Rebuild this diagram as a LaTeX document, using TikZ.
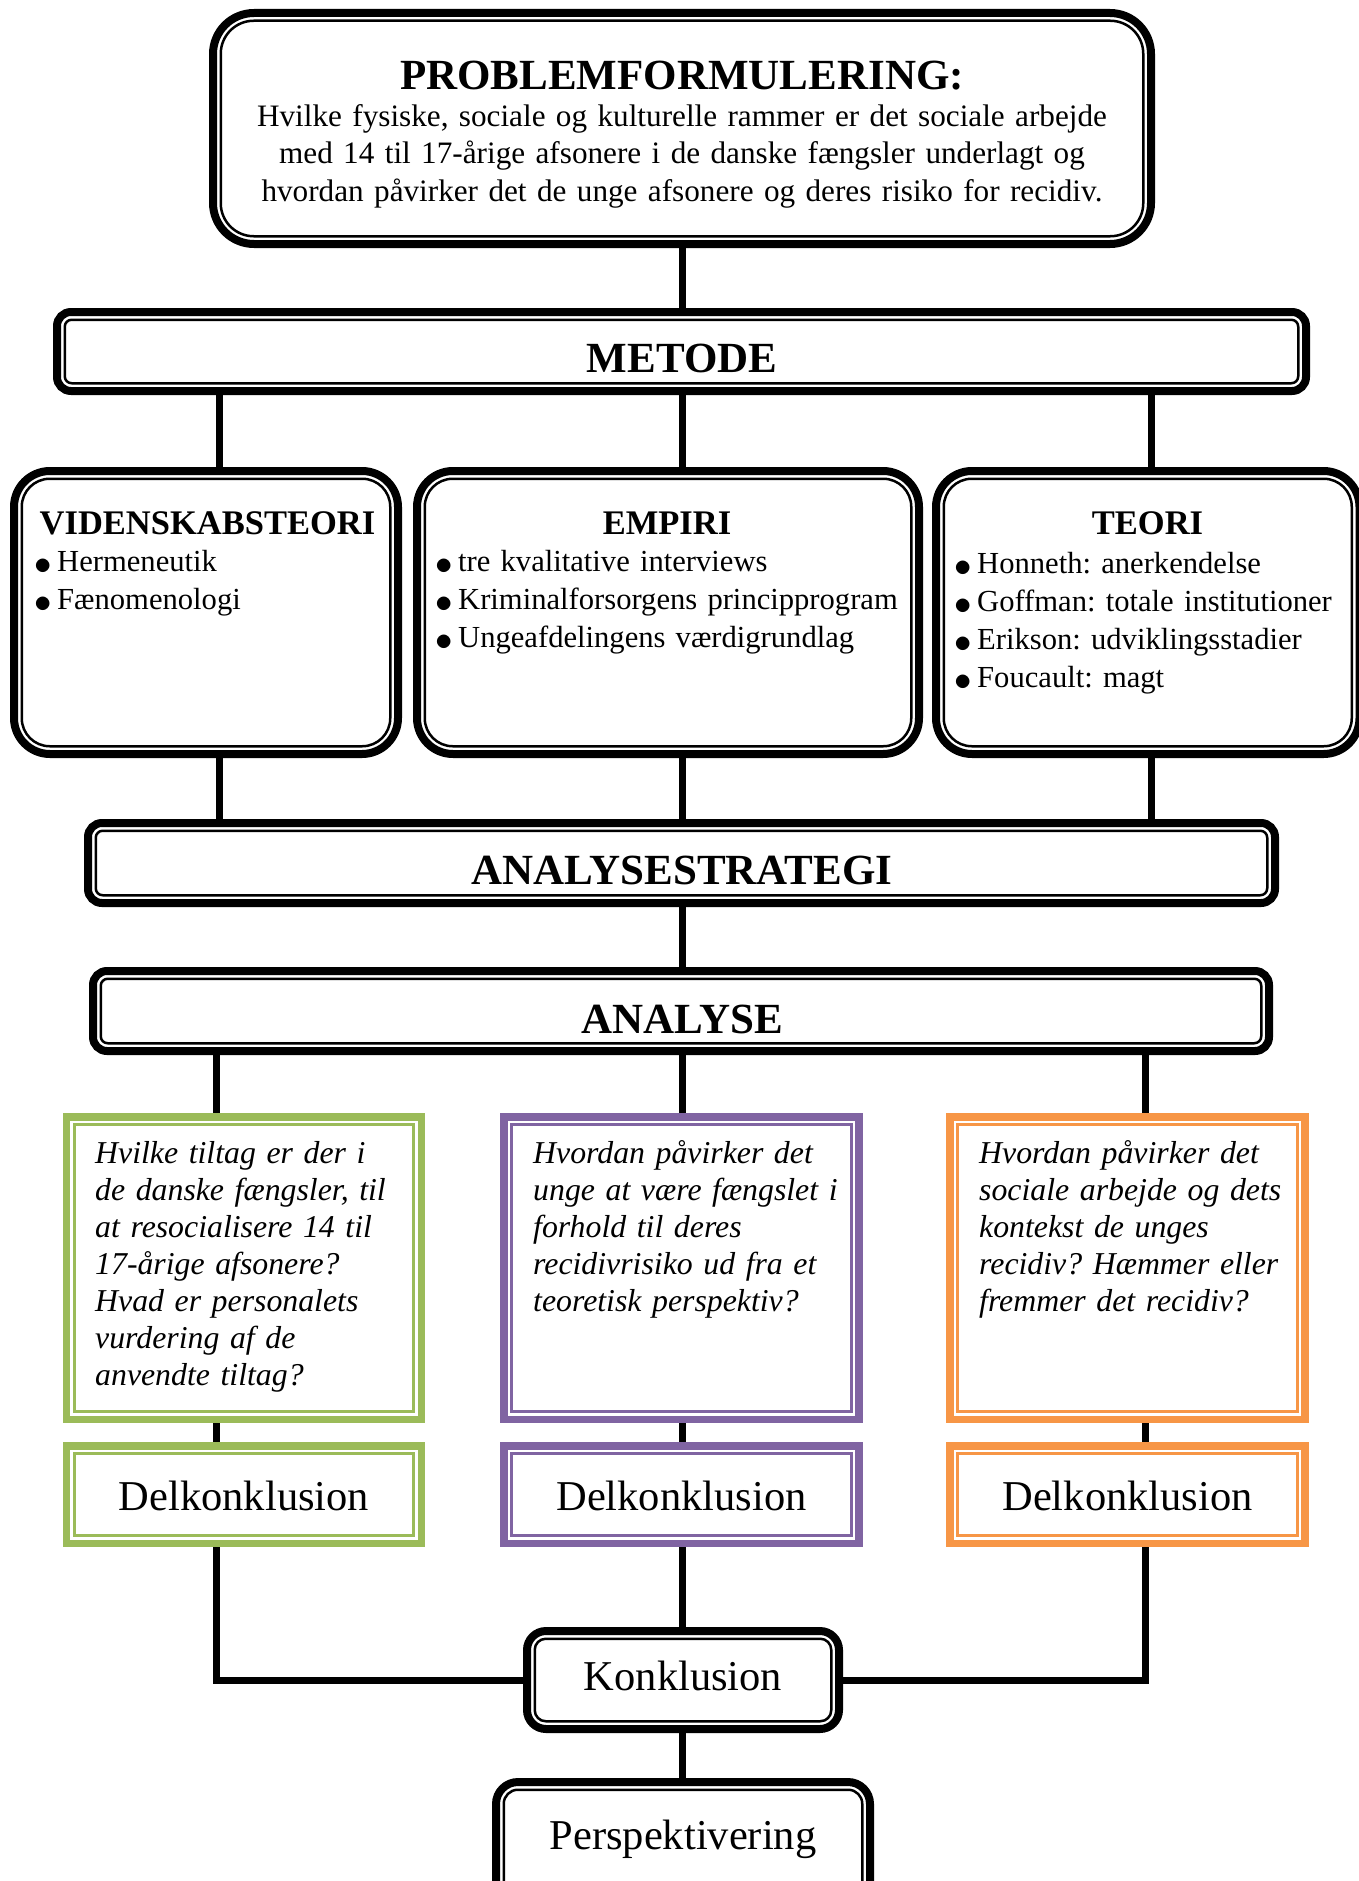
\documentclass[tikz,border=0pt]{standalone}
\usepackage{fontspec}
\usepackage{graphicx}
\setmainfont{Liberation Serif}
\usetikzlibrary{positioning,backgrounds}
\frenchspacing

\definecolor{delgreen}{HTML}{9BBB59}
\definecolor{delpurple}{HTML}{8064A2}
\definecolor{delorange}{HTML}{F79646}

\newcommand{\hdfont}{\fontsize{43}{48}\selectfont\bfseries}
\newcommand{\subhdfont}{\fontsize{34.5}{38}\selectfont\bfseries}
\newcommand{\txtfont}{\fontsize{31.2}{37.5}\selectfont}
\newcommand{\listfont}{\fontsize{30.6}{38}\selectfont}
\newcommand{\qfont}{\fontsize{31.8}{37}\selectfont\itshape}
\newcommand{\lgfont}{\fontsize{42.5}{48}\selectfont}
\newcommand{\bul}{\makebox[21pt][l]{\makebox[14pt][c]{\raisebox{-3pt}{\scalebox{1.4}{$\bullet$}}}}}

\begin{document}
\begin{tikzpicture}[x=1pt, y=-1pt,
    blackbox/.style={draw=black, line width=8pt, fill=white, rounded corners=#1, inner sep=0pt, outer sep=0pt},
    questbox/.style={draw=#1, line width=7.5pt, fill=white, inner sep=0pt, outer sep=0pt},
    connector/.style={draw=black, line width=7pt},
    txt/.style={inner sep=0pt, anchor=base},
    listtxt/.style={inner sep=0pt, anchor=base west, align=left, text width=#1}]

    % Parameters
    \def\inset{7.75pt}
    \def\cinset{7.6pt}

    \useasboundingbox (0,0) rectangle (1358,1881);

    % Problem formulation
    \node[blackbox=41pt, minimum width=938pt, minimum height=231pt] (prob) at (682,128.5) {};
    \node[txt, font=\hdfont] (probtitle) at (682,90) {PROBLEMFORMULERING:};
    \node[txt, font=\txtfont, text width=920pt, align=center] (probtext) at (682,126.5) {Hvilke fysiske, sociale og kulturelle rammer er det sociale arbejde\\ med 14 til 17-årige afsonere i de danske fængsler underlagt og\\ hvordan påvirker det de unge afsonere og deres risiko for recidiv.};

    % Method
    \node[blackbox=14pt, minimum width=1249pt, minimum height=79pt] (metode) at (681.5,351.5) {};
    \node[txt, font=\hdfont] (metodetitle) at (682,372) {METODE};

    % Three method boxes
    \foreach \n/\x/\w in {vid/206/384, emp/668/502, teo/1147.75/423.5}
        \node[blackbox=36pt, minimum width=\w pt, minimum height=283pt] (\n) at (\x,612.5) {};
    \node[txt, font=\subhdfont] (vidtitle) at (207.5,534) {VIDENSKABSTEORI};
    \node[listtxt=360pt, font=\listfont] (vidlist) at (36,571) {\bul Hermeneutik\\\bul Fænomenologi};
    \node[txt, font=\subhdfont] (emptitle) at (667,534) {EMPIRI};
    \node[listtxt=480pt, font=\listfont] (emplist) at (437,571) {\bul tre kvalitative interviews\\\bul Kriminalforsorgens principprogram\\\bul Ungeafdelingens værdigrundlag};
    \node[txt, font=\subhdfont] (teotitle) at (1147.5,534) {TEORI};
    \node[listtxt=395pt, font=\listfont] (teolist) at (956,573) {\bul Honneth: anerkendelse\\\bul Goffman: totale institutioner\\\bul Erikson: udviklingsstadier\\\bul Foucault: magt};

    % Analysis strategy and analysis
    \node[blackbox=14pt, minimum width=1187pt, minimum height=80pt] (strat) at (681.5,863) {};
    \node[txt, font=\hdfont] (strattitle) at (682,884) {ANALYSESTRATEGI};
    \node[blackbox=14pt, minimum width=1176pt, minimum height=80pt] (analyse) at (681,1011) {};
    \node[txt, font=\hdfont] (analysetitle) at (682,1033) {ANALYSE};

    % Research questions and part conclusions
    \foreach \i/\x/\c in {a/244/delgreen, b/681.5/delpurple, c/1127.5/delorange} {
        \node[questbox=\c, minimum width=355pt, minimum height=302.5pt] (q\i) at (\x,1268) {};
        \node[questbox=\c, minimum width=355pt, minimum height=97.5pt] (d\i) at (\x,1494.5) {};
        \node[txt, font=\lgfont] (dtitle\i) at (\x,1510) {Delkonklusion};
        \draw[\c, line width=3pt] ([shift={(\cinset,-\cinset)}]q\i.north west) rectangle ([shift={(-\cinset,\cinset)}]q\i.south east);
        \draw[\c, line width=3pt] ([shift={(\cinset,-\cinset)}]d\i.north west) rectangle ([shift={(-\cinset,\cinset)}]d\i.south east);
    }
    \node[listtxt=330pt, font=\qfont] (qatext) at (95,1163) {Hvilke tiltag er der i\\de danske fængsler, til\\at resocialisere 14 til\\17-årige afsonere?\\Hvad er personalets\\vurdering af de\\anvendte tiltag?};
    \node[listtxt=330pt, font=\qfont] (qbtext) at (533,1163) {Hvordan påvirker det\\unge at være fængslet i\\forhold til deres\\recidivrisiko ud fra et\\teoretisk perspektiv?};
    \node[listtxt=330pt, font=\qfont] (qctext) at (979,1163) {Hvordan påvirker det\\sociale arbejde og dets\\kontekst de unges\\recidiv? Hæmmer eller\\fremmer det recidiv?};

    % Conclusion and perspective
    \node[blackbox=19pt, minimum width=312pt, minimum height=98pt] (konkl) at (683,1680) {};
    \node[txt, font=\lgfont] (konkltitle) at (683,1690) {Konklusion};
    \node[blackbox=22pt, minimum width=374pt, minimum height=128pt] (persp) at (683,1846) {};
    \node[txt, font=\lgfont] (persptitle) at (683,1849.5) {Perspektivering};

    % Inner lines of the black frames
    \foreach \n/\r in {prob/33pt, metode/7pt, vid/28pt, emp/28pt, teo/28pt, strat/7pt, analyse/7pt, konkl/11pt, persp/14pt}
        \draw[line width=2.5pt, rounded corners=\r] ([shift={(\inset,-\inset)}]\n.north west) rectangle ([shift={(-\inset,\inset)}]\n.south east);

    % Connectors
    \coordinate (colA) at (219,0);
    \coordinate (colB) at (682.5,0);
    \coordinate (colC) at (1151,0);
    \coordinate (colD) at (216,0);
    \coordinate (colE) at (1145,0);
    \begin{scope}[on background layer]
        \draw[connector] (prob.south -| colB) -- (metode.north -| colB);
        \foreach \n/\c in {vid/colA, emp/colB, teo/colC} {
            \draw[connector] (metode.south -| \c) -- (\n.north -| \c);
            \draw[connector] (\n.south -| \c) -- (strat.north -| \c);
        }
        \draw[connector] (strat.south -| colB) -- (analyse.north -| colB);
        \foreach \i/\c in {a/colD, b/colB, c/colE} {
            \draw[connector] (analyse.south -| \c) -- (q\i.north -| \c);
            \draw[connector] (q\i.south -| \c) -- (d\i.north -| \c);
        }
        \draw[connector] (da.south -| colD) |- (konkl.west);
        \draw[connector] (dc.south -| colE) |- (konkl.east);
        \draw[connector] (db.south -| colB) -- (konkl.north -| colB);
        \draw[connector] (konkl.south -| colB) -- (persp.north -| colB);
    \end{scope}
\end{tikzpicture}
\end{document}
